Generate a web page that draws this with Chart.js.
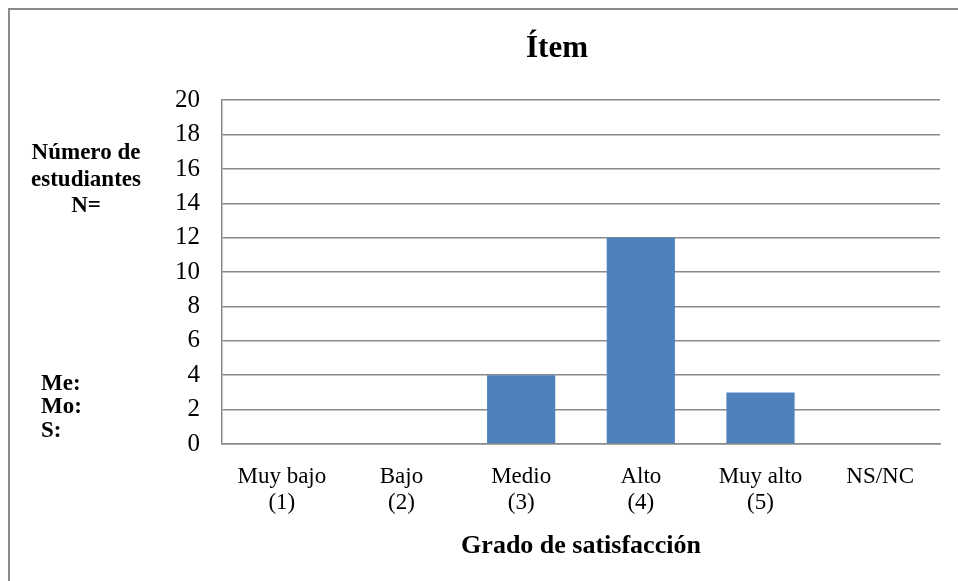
<!DOCTYPE html>
<html>
<head>
<meta charset="utf-8">
<script src="https://cdn.jsdelivr.net/npm/chart.js@4/dist/chart.umd.min.js"></script>
<style>
  html, body { margin: 0; padding: 0; background: #fff; }
  #wrap { width: 958px; height: 581px; }
</style>
</head>
<body>
<div id="wrap"><canvas id="myChart" width="958" height="581"></canvas></div>
<script>
// data
const categories = [
  ["Muy bajo", "(1)"],
  ["Bajo", "(2)"],
  ["Medio", "(3)"],
  ["Alto", "(4)"],
  ["Muy alto", "(5)"],
  ["NS/NC"],
];
const students = [0, 0, 4, 12, 3, 0];
const yMin = 0;
const yMax = 20;
const yStep = 2;

const serif = "'Liberation Serif', 'Times New Roman', serif";
const gridGray = "#898989";

// frame + side notes
const sideNotes = {
  id: "sideNotes",
  afterDraw(chart) {
    const ctx = chart.ctx;
    ctx.save();
    ctx.strokeStyle = "#8a8a8a";
    ctx.lineWidth = 2;
    ctx.strokeRect(9, 9, 1000, 1000);

    ctx.fillStyle = "#000";
    ctx.font = "bold 23px " + serif;
    ctx.textBaseline = "alphabetic";
    ctx.textAlign = "center";
    ctx.fillText("Número de", 86, 159);
    ctx.fillText("estudiantes", 86, 186);
    ctx.fillText("N=", 86, 212);

    ctx.textAlign = "left";
    ctx.fillText("Me:", 41, 390);
    ctx.fillText("Mo:", 41, 413);
    ctx.fillText("S:", 41, 437);
    ctx.restore();
  },
};

const ctx = document.getElementById("myChart").getContext("2d");
const myChart = new Chart(ctx, {
  type: "bar",
  data: {
    labels: categories,
    datasets: [
      {
        label: "Número de estudiantes",
        data: students,
        backgroundColor: "#4F81BD",
        borderWidth: 0,
        barPercentage: 0.57,
        categoryPercentage: 1,
      },
    ],
  },
  options: {
    responsive: false,
    animation: false,
    devicePixelRatio: 1,
    layout: {
      padding: { left: 174, right: 18, top: 0, bottom: 0 },
    },
    plugins: {
      legend: { display: false },
      tooltip: { enabled: false },
      title: {
        display: true,
        text: "Ítem",
        color: "#000",
        font: { family: serif, size: 31, weight: "bold" },
        padding: { top: 30, bottom: 33 },
      },
    },
    scales: {
      x: {
        afterFit(scale) {
          scale.height = 137;
        },
        grid: { display: false },
        border: { display: true, color: gridGray, width: 1.5 },
        ticks: {
          color: "#000",
          font: { family: serif, size: 23, lineHeight: 1.17 },
          padding: 11,
          maxRotation: 0,
          autoSkip: false,
        },
        title: {
          display: true,
          text: "Grado de satisfacción",
          color: "#000",
          font: { family: serif, size: 26, weight: "bold" },
          padding: { top: 0, bottom: 19 },
        },
      },
      y: {
        min: yMin,
        max: yMax,
        afterFit(scale) {
          scale.width = 48;
        },
        grid: { color: gridGray, lineWidth: 1.5, drawTicks: false },
        border: { display: true, color: gridGray, width: 1.5 },
        ticks: {
          stepSize: yStep,
          color: "#000",
          font: { family: serif, size: 25 },
          padding: 22,
        },
      },
    },
  },
  plugins: [sideNotes],
});
</script>
</body>
</html>
